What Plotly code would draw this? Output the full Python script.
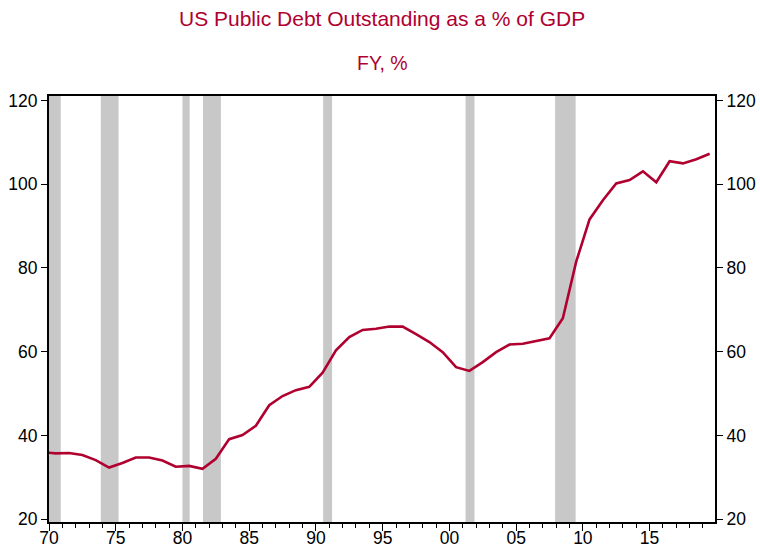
import plotly.graph_objects as go

years = list(range(1969, 2020))
debt_pct_gdp = [36.0, 35.7, 35.8, 35.3, 34.1, 32.3, 33.4, 34.7, 34.7, 34.0,
                32.5, 32.7, 32.0, 34.4, 39.1, 40.1, 42.3, 47.2, 49.4, 50.8,
                51.6, 55.0, 60.3, 63.5, 65.2, 65.5, 66.0, 66.0, 64.2, 62.3,
                59.9, 56.3, 55.4, 57.5, 59.9, 61.7, 61.9, 62.6, 63.2, 68.0,
                81.5, 91.6, 96.2, 100.2, 101.0, 103.1, 100.5, 105.5, 105.0, 106.0,
                107.3]
recession_start = [1969.92, 1973.88, 1980.0, 1981.54, 1990.54, 2001.21, 2007.92]
recession_end = [1970.88, 1975.21, 1980.54, 1982.88, 1991.21, 2001.88, 2009.46]
x_tick_vals = [1970, 1975, 1980, 1985, 1990, 1995, 2000, 2005, 2010, 2015]
x_tick_text = ["70", "75", "80", "85", "90", "95", "00", "05", "10", "15"]
y_tick_vals = [20, 40, 60, 80, 100, 120]

# annual fiscal-year observations plotted at mid-period
x_pos = [y + 0.5 for y in years]

RED = "#B00030"
FONT = "Arial, Liberation Sans, sans-serif"
TICK_SIZE = 17.5

fig = go.Figure()
fig.add_trace(go.Scatter(x=x_pos, y=debt_pct_gdp, mode="lines",
                         line=dict(color=RED, width=2.6), showlegend=False))
fig.add_trace(go.Scatter(x=x_pos, y=debt_pct_gdp, mode="lines", yaxis="y2",
                         line=dict(color="rgba(0,0,0,0)", width=0),
                         hoverinfo="skip", showlegend=False))

for s, e in zip(recession_start, recession_end):
    fig.add_shape(type="rect", xref="x", yref="y domain", x0=s, x1=e, y0=0, y1=1,
                  fillcolor="#C8C8C8", line=dict(width=0), layer="below")

yr = [19.3, 121.1]
fig.update_layout(
    width=760, height=547,
    margin=dict(l=49, r=45, t=96, b=25),
    paper_bgcolor="white", plot_bgcolor="white",
    font=dict(family=FONT, size=TICK_SIZE, color="black"),
    xaxis=dict(range=[1970, 2019.9], tickvals=x_tick_vals, ticktext=x_tick_text,
               ticks="outside", ticklen=7, tickwidth=1, tickcolor="black",
               minor=dict(dtick=1, ticks="outside", ticklen=4, tickcolor="black", tickwidth=1),
               showline=True, linecolor="black", linewidth=2, mirror=True,
               showgrid=False, zeroline=False, tickfont=dict(size=TICK_SIZE),
               ticklabelstandoff=-8, automargin=False),
    yaxis=dict(range=yr, tickvals=y_tick_vals, ticks="outside", ticklen=6,
               tickcolor="black", showline=True, linecolor="black", linewidth=2,
               showgrid=False, zeroline=False, tickfont=dict(size=TICK_SIZE),
               automargin=False),
    yaxis2=dict(range=yr, tickvals=y_tick_vals, ticks="outside", ticklen=6,
                tickcolor="black", overlaying="y", side="right", showline=True,
                linecolor="black", linewidth=2, showgrid=False, zeroline=False,
                tickfont=dict(size=TICK_SIZE), automargin=False),
    annotations=[
        dict(text="US Public Debt Outstanding as a % of GDP", xref="paper", yref="paper",
             x=0.5, y=1 + (96 - 19) / 426, xanchor="center", yanchor="middle",
             showarrow=False, font=dict(size=21, color=RED, family=FONT)),
        dict(text="FY, %", xref="paper", yref="paper",
             x=0.5, y=1 + (96 - 63) / 426, xanchor="center", yanchor="middle",
             showarrow=False, font=dict(size=19.5, color=RED, family=FONT)),
    ],
)

fig.write_html("out.html")
